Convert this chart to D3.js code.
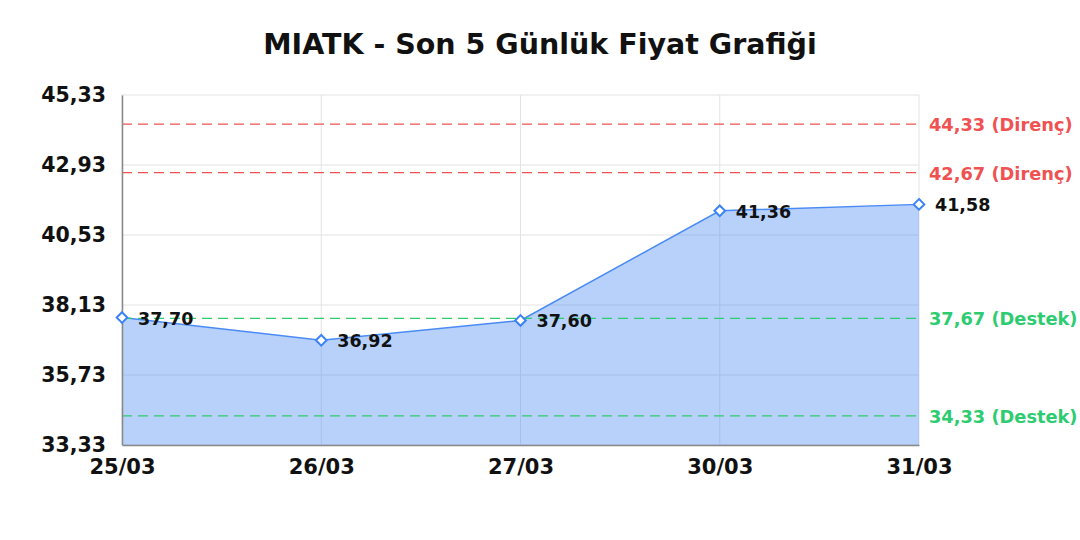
<!DOCTYPE html>
<html>
<head>
<meta charset="utf-8">
<script src="https://cdn.jsdelivr.net/npm/d3@7"></script>
<style>
  body { margin: 0; background: #fff; }
  text { font-family: "DejaVu Sans", Verdana, sans-serif; font-weight: bold; }
</style>
</head>
<body>
<div id="chart"></div>
<script>
var dates = ['25/03', '26/03', '27/03', '30/03', '31/03'];
var prices = [37.70, 36.92, 37.60, 41.36, 41.58];
var yTicks = [33.33, 35.73, 38.13, 40.53, 42.93, 45.33];
var resistance = [44.33, 42.67];
var support = [37.67, 34.33];

var width = 1080, height = 540;
var margin = {top: 95, right: 161, bottom: 95, left: 122};

var svg = d3.select('#chart').append('svg')
    .attr('width', width)
    .attr('height', height);

var x = d3.scalePoint()
    .domain(dates)
    .range([margin.left, width - margin.right]);

var y = d3.scaleLinear()
    .domain([33.33, 45.33])
    .range([height - margin.bottom, margin.top]);

function fmt(v){
    return v.toFixed(2).replace('.', ',');
}

svg.append('text')
    .attr('x', 540)
    .attr('y', 54)
    .attr('text-anchor', 'middle')
    .attr('font-size', '28.5px')
    .attr('fill', '#111')
    .text('MIATK - Son 5 Günlük Fiyat Grafiği');

// grid
var grid = svg.append('g');
grid.selectAll('line.h').data(yTicks)
    .enter().append('line')
    .attr('x1', margin.left).attr('x2', width - margin.right)
    .attr('y1', function(d){return y(d)}).attr('y2', function(d){return y(d)})
    .attr('stroke', '#e3e3e3').attr('stroke-width', 1);
grid.selectAll('line.v').data(dates)
    .enter().append('line')
    .attr('y1', margin.top).attr('y2', height - margin.bottom)
    .attr('x1', function(d){return x(d)}).attr('x2', function(d){return x(d)})
    .attr('stroke', '#e3e3e3').attr('stroke-width', 1);

var pts = dates.map(function(d, i){return {date: d, value: prices[i]}});

var area = d3.area()
    .x(function(d){return x(d.date)})
    .y0(y(33.33))
    .y1(function(d){return y(d.value)});

svg.append('path')
    .datum(pts)
    .attr('d', area)
    .attr('fill', 'rgba(66,133,244,0.38)');

var line = d3.line()
    .x(function(d){return x(d.date)})
    .y(function(d){return y(d.value)});

svg.append('path')
    .datum(pts)
    .attr('d', line)
    .attr('fill', 'none')
    .attr('stroke', '#4a8af4')
    .attr('stroke-width', 1.5);

// reference lines
var refs = resistance.map(function(v){return {value: v, label: fmt(v) + ' (Direnç)', color: '#f05252'}})
    .concat(support.map(function(v){return {value: v, label: fmt(v) + ' (Destek)', color: '#2ecc71'}}));

var refG = svg.append('g');
refG.selectAll('line').data(refs)
    .enter().append('line')
    .attr('x1', margin.left).attr('x2', width - margin.right)
    .attr('y1', function(d){return y(d.value)}).attr('y2', function(d){return y(d.value)})
    .attr('stroke', function(d){return d.color})
    .attr('stroke-width', 1.4)
    .attr('stroke-dasharray', '10,6');
refG.selectAll('text').data(refs)
    .enter().append('text')
    .attr('x', width - margin.right + 10)
    .attr('y', function(d){return y(d.value) + 7})
    .attr('font-size', '17.8px')
    .attr('fill', function(d){return d.color})
    .text(function(d){return d.label});

// axes
var xAxis = svg.append('g')
    .attr('transform', 'translate(0,' + (height - margin.bottom) + ')')
    .call(d3.axisBottom(x).tickSize(0).tickPadding(14));
xAxis.select('.domain').attr('stroke', '#888').attr('stroke-width', 1.5);
xAxis.selectAll('text').attr('font-size', '21px').attr('fill', '#111')
    .attr('font-family', '"DejaVu Sans", sans-serif').attr('font-weight', 'bold');

var yAxis = svg.append('g')
    .attr('transform', 'translate(' + margin.left + ',0)')
    .call(d3.axisLeft(y).tickValues(yTicks).tickFormat(fmt).tickSize(0).tickPadding(16));
yAxis.select('.domain').attr('stroke', '#888').attr('stroke-width', 1.5);
yAxis.selectAll('text').attr('font-size', '20.5px').attr('fill', '#111')
    .attr('font-family', '"DejaVu Sans", sans-serif').attr('font-weight', 'bold');

// markers
var sym = d3.symbol().type(d3.symbolDiamond2).size(72);
svg.selectAll('path.marker').data(pts)
    .enter().append('path')
    .attr('class', 'marker')
    .attr('d', sym)
    .attr('transform', function(d){return 'translate(' + x(d.date) + ',' + y(d.value) + ')'})
    .attr('fill', '#fff')
    .attr('stroke', '#3b82f6')
    .attr('stroke-width', 2);

svg.selectAll('text.val').data(pts)
    .enter().append('text')
    .attr('class', 'val')
    .attr('x', function(d){return x(d.date) + 16})
    .attr('y', function(d){return y(d.value) + 7})
    .attr('font-size', '17.5px')
    .attr('fill', '#111')
    .text(function(d){return fmt(d.value)});
</script>
</body>
</html>
